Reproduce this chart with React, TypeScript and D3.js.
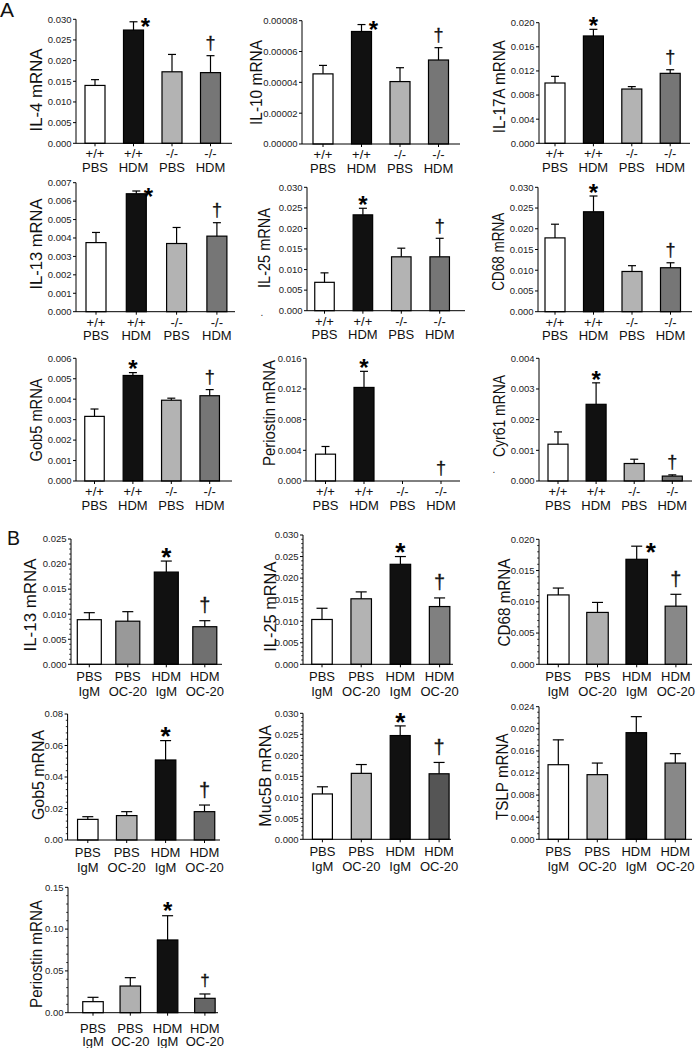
import React from 'react';
import * as d3 from 'd3';

// ---------- category labels ----------
const genotypeLabels = ['+/+', '+/+', '-/-', '-/-'];
const treatmentLabelsA = ['PBS', 'HDM', 'PBS', 'HDM'];
const treatmentLabelsB = ['PBS', 'PBS', 'HDM', 'HDM'];
const antibodyLabelsB = ['IgM', 'OC-20', 'IgM', 'OC-20'];

// ---------- section A data (mean, SEM) ----------
const il4Mean = [0.0140, 0.0274, 0.0173, 0.0171];
const il4Err = [0.0014, 0.0020, 0.0042, 0.0041];
const il10Mean = [0.0000455, 0.0000730, 0.0000405, 0.0000545];
const il10Err = [0.0000055, 0.0000045, 0.0000090, 0.0000080];
const il17aMean = [0.0100, 0.0178, 0.0090, 0.0116];
const il17aErr = [0.0011, 0.0011, 0.0004, 0.0006];
const il13AMean = [0.00375, 0.0064, 0.0037, 0.0041];
const il13AErr = [0.00055, 0.00015, 0.00087, 0.00073];
const il25AMean = [0.0069, 0.0233, 0.0131, 0.0131];
const il25AErr = [0.0023, 0.0016, 0.0021, 0.0045];
const cd68AMean = [0.0178, 0.0241, 0.0097, 0.0106];
const cd68AErr = [0.0033, 0.0038, 0.0014, 0.0012];
const gob5AMean = [0.00316, 0.00516, 0.00395, 0.00417];
const gob5AErr = [0.00036, 0.00014, 0.0001, 0.0003];
const periostinAMean = [0.0035, 0.0122, 0, 0];
const periostinAErr = [0.0010, 0.0021, 0, 0];
const cyr61Mean = [0.0012, 0.0025, 0.00057, 0.00016];
const cyr61Err = [0.0004, 0.0007, 0.00014, 0.00004];

// ---------- section B data (mean, SEM) ----------
const il13BMean = [0.0089, 0.0086, 0.0184, 0.0075];
const il13BErr = [0.0014, 0.0019, 0.0022, 0.0012];
const il25BMean = [0.0104, 0.0152, 0.0232, 0.0134];
const il25BErr = [0.0026, 0.0016, 0.0018, 0.0020];
const cd68BMean = [0.0111, 0.0083, 0.0168, 0.0093];
const cd68BErr = [0.0011, 0.0016, 0.0021, 0.0019];
const gob5BMean = [0.0131, 0.0155, 0.0508, 0.0180];
const gob5BErr = [0.0017, 0.0025, 0.0123, 0.0042];
const muc5bMean = [0.0108, 0.0157, 0.0247, 0.0156];
const muc5bErr = [0.0017, 0.0021, 0.0023, 0.0027];
const tslpMean = [0.0135, 0.0117, 0.0193, 0.0138];
const tslpErr = [0.0045, 0.0021, 0.0029, 0.0017];
const periostinBMean = [0.0132, 0.0319, 0.0870, 0.0172];
const periostinBErr = [0.0052, 0.0100, 0.0290, 0.0052];

// ---------- styles ----------
const colorsA = ['#ffffff', '#111111', '#b3b3b3', '#767676'];
const FONT = 'Liberation Sans, Arial, Helvetica, sans-serif';

type Layout = {
  axisX: number; c0: number; step: number; bw: number;
  yTop: number; yBot: number; xEnd: number;
  tX: number; tY: number; tLen: number; tSize: number;
  star: 'above' | 'right' | 'none'; dagger: boolean;
  l1: number; l2: number; starSize: number; daggerSize: number;
};
type PanelDef = {
  section: 'A' | 'B';
  title: string; mean: number[]; err: number[];
  line1: string[]; line2: string[];
  yMax: number; yStep: number; dec: number; minor: number;
  colors: string[]; L: Layout;
};

const A_LBL = { l1: 15, l2: 28.5, starSize: 24, daggerSize: 18 };
const B_LBL = { l1: 16.5, l2: 32, starSize: 26, daggerSize: 20 };

const panels: PanelDef[] = [
  { section: 'A', title: 'IL-4 mRNA', mean: il4Mean, err: il4Err, line1: genotypeLabels, line2: treatmentLabelsA,
    yMax: 0.030, yStep: 0.005, dec: 3, minor: 1, colors: colorsA,
    L: { axisX: 76, c0: 95, step: 38.5, bw: 20, yTop: 19.3, yBot: 143.3, xEnd: 232, tX: 41.5, tY: 90, tLen: 83, tSize: 17, star: 'right', dagger: true, ...A_LBL } },
  { section: 'A', title: 'IL-10 mRNA', mean: il10Mean, err: il10Err, line1: genotypeLabels, line2: treatmentLabelsA,
    yMax: 0.00008, yStep: 0.00002, dec: 5, minor: 1, colors: colorsA,
    L: { axisX: 302, c0: 323, step: 38.5, bw: 20, yTop: 20.7, yBot: 144, xEnd: 460, tX: 262, tY: 82.5, tLen: 85, tSize: 17, star: 'right', dagger: true, ...A_LBL } },
  { section: 'A', title: 'IL-17A mRNA', mean: il17aMean, err: il17aErr, line1: genotypeLabels, line2: treatmentLabelsA,
    yMax: 0.020, yStep: 0.004, dec: 3, minor: 1, colors: colorsA,
    L: { axisX: 539, c0: 555, step: 38.4, bw: 20, yTop: 22.7, yBot: 143.3, xEnd: 690, tX: 505, tY: 86.7, tLen: 93, tSize: 17, star: 'above', dagger: true, ...A_LBL } },
  { section: 'A', title: 'IL-13 mRNA', mean: il13AMean, err: il13AErr, line1: genotypeLabels, line2: treatmentLabelsA,
    yMax: 0.007, yStep: 0.001, dec: 3, minor: 1, colors: colorsA,
    L: { axisX: 76, c0: 96, step: 40.3, bw: 20, yTop: 182.7, yBot: 311.7, xEnd: 235, tX: 41.5, tY: 244, tLen: 91, tSize: 17, star: 'right', dagger: true, ...A_LBL } },
  { section: 'A', title: 'IL-25 mRNA', mean: il25AMean, err: il25AErr, line1: genotypeLabels, line2: treatmentLabelsA,
    yMax: 0.030, yStep: 0.005, dec: 3, minor: 1, colors: colorsA,
    L: { axisX: 307, c0: 324.5, step: 38.4, bw: 19.5, yTop: 187.3, yBot: 310.7, xEnd: 465, tX: 270, tY: 248, tLen: 80, tSize: 17, star: 'above', dagger: true, ...A_LBL } },
  { section: 'A', title: 'CD68 mRNA', mean: cd68AMean, err: cd68AErr, line1: genotypeLabels, line2: treatmentLabelsA,
    yMax: 0.030, yStep: 0.005, dec: 3, minor: 1, colors: colorsA,
    L: { axisX: 538, c0: 555, step: 38.5, bw: 20, yTop: 187.3, yBot: 311.7, xEnd: 692, tX: 503.5, tY: 251.7, tLen: 78, tSize: 17, star: 'above', dagger: true, ...A_LBL } },
  { section: 'A', title: 'Gob5 mRNA', mean: gob5AMean, err: gob5AErr, line1: genotypeLabels, line2: treatmentLabelsA,
    yMax: 0.006, yStep: 0.001, dec: 3, minor: 1, colors: colorsA,
    L: { axisX: 76, c0: 94.5, step: 38.4, bw: 19.5, yTop: 358.3, yBot: 481, xEnd: 232, tX: 41.5, tY: 420, tLen: 83, tSize: 17, star: 'above', dagger: true, ...A_LBL } },
  { section: 'A', title: 'Periostin mRNA', mean: periostinAMean, err: periostinAErr, line1: genotypeLabels, line2: treatmentLabelsA,
    yMax: 0.016, yStep: 0.004, dec: 3, minor: 1, colors: colorsA,
    L: { axisX: 306, c0: 325.5, step: 38.5, bw: 20, yTop: 358.3, yBot: 481, xEnd: 460, tX: 275, tY: 413, tLen: 106, tSize: 17, star: 'above', dagger: true, ...A_LBL } },
  { section: 'A', title: 'Cyr61 mRNA', mean: cyr61Mean, err: cyr61Err, line1: genotypeLabels, line2: treatmentLabelsA,
    yMax: 0.004, yStep: 0.001, dec: 3, minor: 1, colors: colorsA,
    L: { axisX: 539, c0: 558, step: 38.1, bw: 20, yTop: 358.3, yBot: 481, xEnd: 692, tX: 505, tY: 416, tLen: 82, tSize: 17, star: 'above', dagger: true, ...A_LBL } },

  { section: 'B', title: 'IL-13 mRNA', mean: il13BMean, err: il13BErr, line1: treatmentLabelsB, line2: antibodyLabelsB,
    yMax: 0.025, yStep: 0.005, dec: 3, minor: 5, colors: ['#ffffff', '#999999', '#111111', '#707070'],
    L: { axisX: 71, c0: 89.3, step: 38.5, bw: 24, yTop: 539, yBot: 664.3, xEnd: 222, tX: 35.6, tY: 605, tLen: 93, tSize: 17, star: 'above', dagger: true, ...B_LBL } },
  { section: 'B', title: 'IL-25 mRNA', mean: il25BMean, err: il25BErr, line1: treatmentLabelsB, line2: antibodyLabelsB,
    yMax: 0.030, yStep: 0.005, dec: 3, minor: 5, colors: ['#ffffff', '#b3b3b3', '#111111', '#808080'],
    L: { axisX: 303, c0: 322, step: 39.2, bw: 20.5, yTop: 535, yBot: 664.3, xEnd: 453, tX: 275.6, tY: 606.7, tLen: 90, tSize: 17, star: 'above', dagger: true, ...B_LBL } },
  { section: 'B', title: 'CD68 mRNA', mean: cd68BMean, err: cd68BErr, line1: treatmentLabelsB, line2: antibodyLabelsB,
    yMax: 0.020, yStep: 0.005, dec: 3, minor: 5, colors: ['#ffffff', '#b0b0b0', '#111111', '#888888'],
    L: { axisX: 539, c0: 558.3, step: 39.2, bw: 21.5, yTop: 539.3, yBot: 664.3, xEnd: 692, tX: 510, tY: 602.5, tLen: 88, tSize: 17, star: 'right', dagger: true, ...B_LBL } },
  { section: 'B', title: 'Gob5 mRNA', mean: gob5BMean, err: gob5BErr, line1: treatmentLabelsB, line2: antibodyLabelsB,
    yMax: 0.08, yStep: 0.02, dec: 2, minor: 5, colors: ['#ffffff', '#b3b3b3', '#111111', '#6a6a6a'],
    L: { axisX: 67.6, c0: 87.8, step: 38.9, bw: 20.5, yTop: 714, yBot: 840, xEnd: 220, tX: 44.4, tY: 775, tLen: 90, tSize: 17, star: 'above', dagger: true, ...B_LBL } },
  { section: 'B', title: 'Muc5B mRNA', mean: muc5bMean, err: muc5bErr, line1: treatmentLabelsB, line2: antibodyLabelsB,
    yMax: 0.030, yStep: 0.005, dec: 3, minor: 5, colors: ['#ffffff', '#b8b8b8', '#111111', '#555555'],
    L: { axisX: 303, c0: 322.4, step: 38.9, bw: 20, yTop: 713.3, yBot: 839.3, xEnd: 451, tX: 271, tY: 775.8, tLen: 101.7, tSize: 17, star: 'above', dagger: true, ...B_LBL } },
  { section: 'B', title: 'TSLP mRNA', mean: tslpMean, err: tslpErr, line1: treatmentLabelsB, line2: antibodyLabelsB,
    yMax: 0.024, yStep: 0.004, dec: 3, minor: 4, colors: ['#ffffff', '#b8b8b8', '#111111', '#888888'],
    L: { axisX: 539, c0: 558.3, step: 39, bw: 20.5, yTop: 706.7, yBot: 839.3, xEnd: 692, tX: 507.6, tY: 776.7, tLen: 86.7, tSize: 17, star: 'none', dagger: false, ...B_LBL } },
  { section: 'B', title: 'Periostin mRNA', mean: periostinBMean, err: periostinBErr, line1: treatmentLabelsB, line2: antibodyLabelsB,
    yMax: 0.15, yStep: 0.05, dec: 2, minor: 5, colors: ['#ffffff', '#b0b0b0', '#111111', '#666666'],
    L: { axisX: 68, c0: 93, step: 37.3, bw: 20.5, yTop: 887.3, yBot: 1012.7, xEnd: 218, tX: 41.7, tY: 954, tLen: 108, tSize: 17, star: 'above', dagger: true,
      l1: 20, l2: 33.5, starSize: 24, daggerSize: 17 } },
];

function Panel({ p }: { p: PanelDef }) {
  const L = p.L;
  const isA = p.section === 'A';
  const y = d3.scaleLinear().domain([0, p.yMax]).range([L.yBot, L.yTop]);
  const pad = 1 - L.bw / L.step;
  const x = d3.scaleBand<number>()
    .domain([0, 1, 2, 3])
    .range([L.c0 - L.step / 2, L.c0 + 3.5 * L.step])
    .paddingInner(pad)
    .paddingOuter(pad / 2);
  const nMajor = Math.round(p.yMax / p.yStep);
  const majors = d3.range(0, nMajor + 1).map((i) => i * p.yStep);
  const minors = p.minor > 1
    ? d3.range(0, nMajor * p.minor + 1).filter((i) => i % p.minor !== 0).map((i) => (i * p.yStep) / p.minor)
    : [];
  const fmt = d3.format(`.${p.dec}f`);
  const tickLen = 3;
  const capW = isA ? 8 : 11;
  const sw = 1.2;
  const cx = (i: number) => (x(i) as number) + x.bandwidth() / 2;

  const blackIdx = isA ? 1 : 2;
  const errTop = (i: number) => y(p.mean[i] + p.err[i]);
  const lblSize = 13;

  return (
    <g>
      {/* bars */}
      {p.mean.map((m, i) =>
        m > 0 ? (
          <rect key={`b${i}`} x={x(i)} y={y(m)} width={x.bandwidth()} height={L.yBot - y(m)}
            fill={p.colors[i]} stroke="#000" strokeWidth={sw} />
        ) : null
      )}
      {/* error bars */}
      {p.mean.map((m, i) =>
        p.err[i] > 0 ? (
          <g key={`e${i}`} stroke="#000" strokeWidth={sw}>
            <line x1={cx(i)} x2={cx(i)} y1={y(m)} y2={errTop(i)} />
            <line x1={cx(i) - capW / 2} x2={cx(i) + capW / 2} y1={errTop(i)} y2={errTop(i)} />
          </g>
        ) : null
      )}
      {/* y axis */}
      <line x1={L.axisX} x2={L.axisX} y1={L.yTop} y2={L.yBot} stroke="#000" strokeWidth={1} />
      {majors.map((v) => (
        <g key={`t${v}`}>
          <line x1={L.axisX - tickLen} x2={L.axisX} y1={y(v)} y2={y(v)} stroke="#000" strokeWidth={1} />
          <text x={L.axisX - tickLen - 1.5} y={y(v)} dy="0.35em" textAnchor="end" fontSize={9.5}
            fontFamily={FONT} fill="#222">{fmt(v)}</text>
        </g>
      ))}
      {minors.map((v, k) => (
        <line key={`m${k}`} x1={L.axisX - 1.8} x2={L.axisX} y1={y(v)} y2={y(v)} stroke="#000" strokeWidth={0.8} />
      ))}
      {/* x axis */}
      <line x1={L.axisX} x2={L.xEnd} y1={L.yBot} y2={L.yBot} stroke="#000" strokeWidth={1} />
      {p.mean.map((_, i) => (
        <line key={`xt${i}`} x1={cx(i)} x2={cx(i)} y1={L.yBot} y2={L.yBot + 3} stroke="#000" strokeWidth={1} />
      ))}
      {/* category labels */}
      {p.mean.map((_, i) => (
        <g key={`l${i}`}>
          <text x={cx(i)} y={L.yBot + L.l1} textAnchor="middle"
            fontSize={lblSize} fontFamily={FONT} fill="#111">{p.line1[i]}</text>
          <text x={cx(i)} y={L.yBot + L.l2} textAnchor="middle"
            fontSize={lblSize} fontFamily={FONT} fill="#111">{p.line2[i]}</text>
        </g>
      ))}
      {/* y title */}
      <text transform={`translate(${L.tX},${L.tY}) rotate(-90)`} textAnchor="middle" fontSize={L.tSize}
        fontFamily={FONT} fill="#111" textLength={L.tLen} lengthAdjust="spacingAndGlyphs">{p.title}</text>
      {/* significance marks */}
      {L.star !== 'none' && (
        L.star === 'right' ? (
          <text x={cx(blackIdx) + (isA ? 12 : 14)} y={errTop(blackIdx) + 0.57 * L.starSize}
            textAnchor="middle" fontSize={L.starSize} fontWeight="bold" fontFamily={FONT} fill="#000">*</text>
        ) : (
          <text x={cx(blackIdx)} y={errTop(blackIdx) - (isA ? 9 : 10) + 0.57 * L.starSize}
            textAnchor="middle" fontSize={L.starSize} fontWeight="bold" fontFamily={FONT} fill="#000">*</text>
        )
      )}
      {L.dagger && (
        <text x={cx(3)} y={errTop(3) - (isA ? 4 : 5.5) - 0.15 * L.daggerSize}
          textAnchor="middle" fontSize={L.daggerSize} fontFamily={FONT} fill="#111"
          stroke="#111" strokeWidth={0.3}>†</text>
      )}
    </g>
  );
}

export default function App() {
  return (
    <svg width={697} height={1048} style={{ position: 'absolute', left: 0, top: 0, background: '#fff' }}
      xmlns="http://www.w3.org/2000/svg">
      <rect x={0} y={0} width={697} height={1048} fill="#fff" />
      <text x={0} y={17} fontSize={21} fontFamily={FONT} fill="#111">A</text>
      <text x={7} y={545} fontSize={19.5} fontFamily={FONT} fill="#111">B</text>
      {panels.map((p, i) => (
        <Panel key={i} p={p} />
      ))}
      <text x={262} y={316} textAnchor="middle" fontSize={10} fontFamily={FONT} fill="#333">.</text>
      <text x={494} y={473} textAnchor="middle" fontSize={10} fontFamily={FONT} fill="#333">.</text>
    </svg>
  );
}
